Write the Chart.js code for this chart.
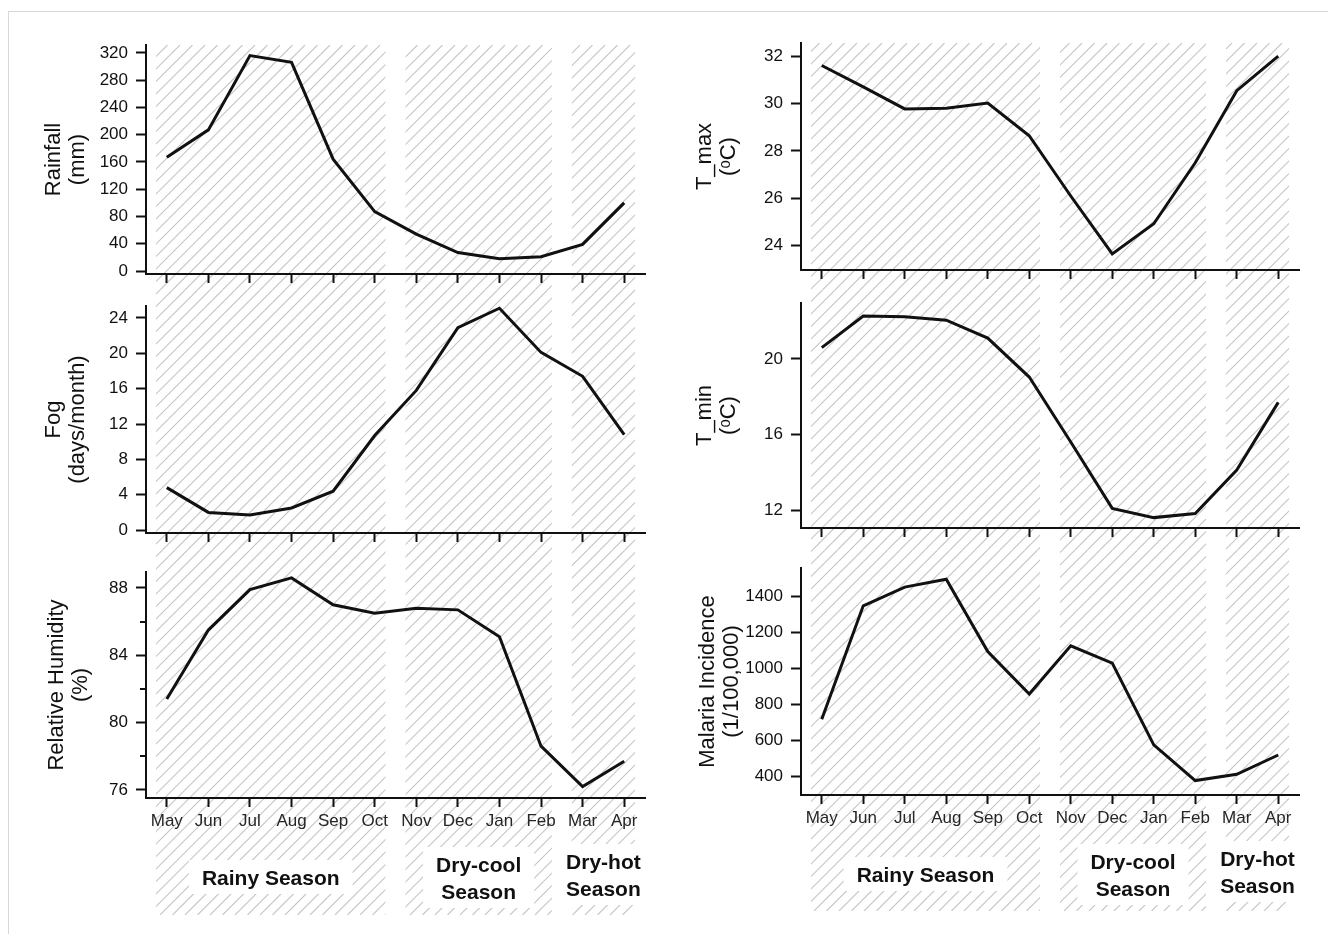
<!DOCTYPE html>
<html>
<head>
<meta charset="utf-8">
<script src="https://cdn.jsdelivr.net/npm/chart.js@4.4.1/dist/chart.umd.min.js"></script>
<style>
  html, body { margin: 0; padding: 0; background: #fff; }
  body { width: 1328px; height: 934px; position: relative; overflow: hidden; }
  #frame { position: absolute; left: 8px; top: 11px; right: 0; bottom: 0;
           border-left: 1px solid #d8d8d8; border-top: 1px solid #d8d8d8; }
  canvas { position: absolute; }
</style>
</head>
<body>
<div id="frame"></div>
<canvas id="rainfallChart"></canvas>
<canvas id="fogChart"></canvas>
<canvas id="humidityChart"></canvas>
<canvas id="tmaxChart"></canvas>
<canvas id="tminChart"></canvas>
<canvas id="malariaChart"></canvas>
<script>
/**
 *  Data: monthly means, May to April.
 */
var months = ['May', 'Jun', 'Jul', 'Aug', 'Sep', 'Oct', 'Nov', 'Dec', 'Jan', 'Feb', 'Mar', 'Apr'];

var seasonNames = [['Rainy Season'], ['Dry-cool', 'Season'], ['Dry-hot', 'Season']];
var seasonFirst = [0, 6, 10];   // index of first month in season
var seasonLast = [5, 9, 11];    // index of last month in season

var rainfall = [167, 207, 316, 306, 164, 87, 54, 27, 18, 21, 39, 100];
var rainfallTicks = [0, 40, 80, 120, 160, 200, 240, 280, 320];

var fog = [4.8, 2.0, 1.7, 2.5, 4.4, 10.7, 15.8, 22.9, 25.1, 20.1, 17.4, 10.8];
var fogTicks = [0, 4, 8, 12, 16, 20, 24];

var humidity = [81.4, 85.5, 87.9, 88.6, 87.0, 86.5, 86.8, 86.7, 85.1, 78.6, 76.2, 77.7];
var humidityTicks = [76, 80, 84, 88];
var humidityMinor = [78, 82, 86];

var tmax = [31.6, 30.7, 29.77, 29.8, 30.02, 28.64, 26.1, 23.66, 24.93, 27.5, 30.54, 32.0];
var tmaxTicks = [24, 26, 28, 30, 32];

var tmin = [20.6, 22.27, 22.23, 22.05, 21.1, 19.04, 15.6, 12.09, 11.6, 11.82, 14.12, 17.7];
var tminTicks = [12, 16, 20];

var malaria = [718, 1348, 1452, 1496, 1094, 859, 1126, 1030, 576, 378, 413, 520];
var malariaTicks = [400, 600, 800, 1000, 1200, 1400];


var FONT = "'Liberation Sans', Arial, Helvetica, sans-serif";
var INK = '#111';
Chart.defaults.font.family = FONT;
Chart.defaults.color = INK;

/**
 * Diagonal hatching behind each season, plus season labels on bottom panels.
 */
var seasonPlugin = {
    id: 'seasons',
    beforeDraw: function(chart, args, opts) {
        var ctx = chart.ctx, area = chart.chartArea, x = chart.scales.x;
        var step = x.getPixelForValue(1) - x.getPixelForValue(0);
        var top = opts.fromArea ? area.top : 0;
        var bottom = opts.below != null ? area.bottom + opts.below : chart.height;
        var shift = opts.pageLeft + opts.pageTop;
        var gap = 12.5;
        ctx.save();
        ctx.strokeStyle = '#c6c6c6';
        ctx.lineWidth = 1.1;
        for (var i = 0; i < seasonFirst.length; i++) {
            var l = x.getPixelForValue(seasonFirst[i]) - 0.26 * step;
            var r = x.getPixelForValue(seasonLast[i]) + 0.26 * step;
            ctx.save();
            ctx.beginPath();
            ctx.rect(l, top, r - l, bottom - top);
            ctx.clip();
            ctx.beginPath();
            var cStart = Math.floor((l + top + shift) / gap) * gap - shift;
            for (var c = cStart; c <= r + bottom + gap; c += gap) {
                ctx.moveTo(c - top, top);
                ctx.lineTo(c - bottom, bottom);
            }
            ctx.stroke();
            ctx.restore();
        }
        ctx.restore();
    },
    afterDraw: function(chart, args, opts) {
        var ctx = chart.ctx, area = chart.chartArea, y = chart.scales.y, x = chart.scales.x;
        ctx.save();
        if (opts.minor) {
            ctx.strokeStyle = INK;
            ctx.lineWidth = 2;
            ctx.beginPath();
            opts.minor.forEach(function(v) {
                var py = Math.round(y.getPixelForValue(v));
                ctx.moveTo(area.left - 6, py);
                ctx.lineTo(area.left, py);
            });
            ctx.stroke();
        }
        if (opts.labels) {
            ctx.font = 'bold 21px ' + FONT;
            ctx.textAlign = 'center';
            ctx.textBaseline = 'alphabetic';
            for (var i = 0; i < seasonNames.length; i++) {
                var lines = seasonNames[i];
                var cx = (x.getPixelForValue(seasonFirst[i]) + x.getPixelForValue(seasonLast[i])) / 2;
                var base = opts.labels[i].map(function(b) { return area.bottom + b; });
                var w = Math.max.apply(null, lines.map(function(t) { return ctx.measureText(t).width; }));
                ctx.fillStyle = '#fff';
                ctx.fillRect(cx - w / 2 - 13, base[0] - 25, w + 26, base[base.length - 1] - base[0] + 34);
                ctx.fillStyle = INK;
                lines.forEach(function(t, j) { ctx.fillText(t, cx, base[j]); });
            }
        }
        ctx.restore();
    }
};

/**
 * Builds one panel. box holds canvas placement and plot-area edges in canvas pixels.
 */
function makePanel(id, box, values, yTicks, yMin, yMax, title, extra) {
    var canvas = document.getElementById(id);
    canvas.width = box.width;
    canvas.height = box.height;
    canvas.style.left = box.left + 'px';
    canvas.style.top = box.top + 'px';
    var seasonOpts = Object.assign({ pageLeft: box.left, pageTop: box.top }, extra || {});

    return new Chart(canvas.getContext('2d'), {
        type: 'line',
        data: {
            labels: months,
            datasets: [{
                data: values,
                borderColor: INK,
                borderWidth: 3,
                pointRadius: 0,
                tension: 0,
                fill: false,
                clip: 4
            }]
        },
        options: {
            responsive: false,
            animation: false,
            devicePixelRatio: 1,
            events: [],
            layout: { padding: { top: box.areaTop, right: box.width - box.areaRight, bottom: 0, left: 0 } },
            plugins: {
                legend: { display: false },
                tooltip: { enabled: false },
                seasons: seasonOpts
            },
            scales: {
                x: {
                    type: 'category',
                    offset: true,
                    grid: { display: true, drawOnChartArea: false, drawTicks: true, offset: false,
                            tickLength: 9, tickWidth: 2, tickColor: INK },
                    border: { display: true, color: INK, width: 2 },
                    ticks: { display: !!box.showMonths, autoSkip: false, maxRotation: 0, padding: 4,
                             color: '#262626', font: { size: 17 } },
                    afterFit: function(s) {
                        s.height = box.height - box.areaBottom;
                        s.paddingLeft = 0; s.paddingRight = 0;
                    }
                },
                y: {
                    type: 'linear',
                    min: yMin,
                    max: yMax,
                    afterBuildTicks: function(s) {
                        s.ticks = yTicks.map(function(v) { return { value: v }; });
                    },
                    grid: { display: true, drawOnChartArea: false, drawTicks: true,
                            tickLength: 10, tickWidth: 2, tickColor: INK },
                    border: { display: true, color: INK, width: 2 },
                    ticks: { padding: 8, color: INK, font: { size: 17 },
                             callback: function(v) { return String(v); } },
                    title: { display: true, text: title, color: INK,
                             font: { size: 22, lineHeight: 1.1 },
                             padding: { top: box.titleTop, bottom: 0 } },
                    afterFit: function(s) {
                        s.width = box.areaLeft;
                        s.paddingTop = 0; s.paddingBottom = 0;
                    }
                }
            }
        },
        plugins: [seasonPlugin]
    });
}

var leftCol = { left: 0, width: 660, areaLeft: 146, areaRight: 645 };
var rightCol = { left: 660, width: 668, areaLeft: 141, areaRight: 639 };
var labelLines = [[87], [74, 101], [71, 98]];

makePanel('rainfallChart', Object.assign({}, leftCol, { top: 0, height: 290, areaTop: 45, areaBottom: 274, titleTop: 42 }),
    rainfall, rainfallTicks, -4.4, 331.5, ['Rainfall', '(mm)'], { fromArea: true });
makePanel('fogChart', Object.assign({}, leftCol, { top: 290, height: 260, areaTop: 16, areaBottom: 243, titleTop: 42 }),
    fog, fogTicks, -0.33, 25.35, ['Fog', '(days/month)']);
makePanel('humidityChart', Object.assign({}, leftCol, { top: 550, height: 384, areaTop: 22, areaBottom: 248, titleTop: 45, showMonths: true }),
    humidity, humidityTicks, 75.52, 88.95, ['Relative Humidity', '(%)'], { below: 117, minor: humidityMinor, labels: labelLines });

makePanel('tmaxChart', Object.assign({}, rightCol, { top: 0, height: 290, areaTop: 43, areaBottom: 270, titleTop: 33 }),
    tmax, tmaxTicks, 22.98, 32.55, ['T_max', '(\u1D52C)'], { fromArea: true });
makePanel('tminChart', Object.assign({}, rightCol, { top: 290, height: 260, areaTop: 13, areaBottom: 238, titleTop: 33 }),
    tmin, tminTicks, 11.05, 22.96, ['T_min', '(\u1D52C)']);
makePanel('malariaChart', Object.assign({}, rightCol, { top: 550, height: 384, areaTop: 18, areaBottom: 245, titleTop: 36, showMonths: true }),
    malaria, malariaTicks, 298, 1558, ['Malaria Incidence', '(1/100,000)'], { below: 116, labels: labelLines });
</script>
</body>
</html>
